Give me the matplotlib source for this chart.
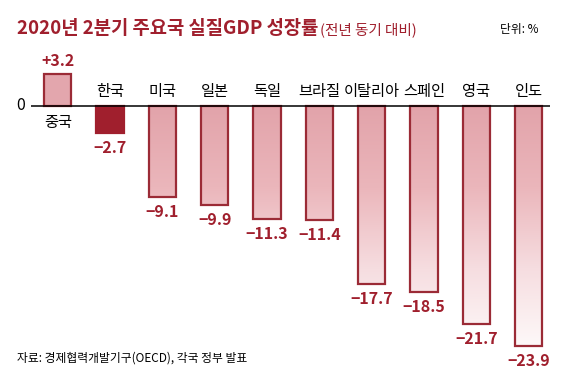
import numpy as np
import matplotlib.pyplot as plt
from matplotlib.colors import LinearSegmentedColormap

plt.rcParams['font.family'] = ['Noto Sans CJK KR', 'DejaVu Sans']

countries = ['중국', '한국', '미국', '일본', '독일', '브라질', '이탈리아', '스페인', '영국', '인도']
growth = [3.2, -2.7, -9.1, -9.9, -11.3, -11.4, -17.7, -18.5, -21.7, -23.9]
value_labels = ['+3.2', '−2.7', '−9.1', '−9.9', '−11.3', '−11.4', '−17.7', '−18.5', '−21.7', '−23.9']

RED = '#a01f2d'
EDGE = '#9b2b36'
W, H = 571, 377

fig = plt.figure(figsize=(W / 100, H / 100), dpi=100)
# axes placed in pixel coordinates: left 31, right 550, top 60, bottom 350
ax = fig.add_axes([31 / W, 1 - 350 / H, (550 - 31) / W, (350 - 60) / H])
ax.axis('off')

cmap = LinearSegmentedColormap.from_list('pinkfade', ['#fefafa', '#f6dde0', '#ebb6bb', '#e2a3aa'])
grad = np.linspace(0, 1, 256).reshape(-1, 1)

x = np.arange(len(countries))
bw = 0.52
bars = ax.bar(x, growth, width=bw, facecolor='none', edgecolor=EDGE, linewidth=1.6, zorder=3)

for i, (b, v) in enumerate(zip(bars, growth)):
    if countries[i] == '한국':
        b.set_facecolor(RED)
        b.set_edgecolor(RED)
        continue
    x0 = b.get_x()
    if v > 0:
        img = ax.imshow(np.full((2, 1), 0.93), extent=[x0, x0 + bw, 0, v], cmap=cmap,
                        vmin=0, vmax=1, aspect='auto', zorder=2)
    else:
        img = ax.imshow(grad, extent=[x0, x0 + bw, -24.31, 0], cmap=cmap, origin='lower',
                        vmin=0, vmax=1, aspect='auto', zorder=2)
    img.set_clip_path(b)

ax.set_xlim(-0.512, 9.41)
ax.set_ylim(-24.31, 4.55)
ax.axhline(0, color='black', linewidth=1.1, zorder=4)

for i, (c, v, lab) in enumerate(zip(countries, growth, value_labels)):
    if v > 0:
        ax.text(i, v + 0.5, lab, ha='center', va='bottom', color=RED, fontsize=11.5, fontweight='bold')
        ax.text(i, -0.8, c, ha='center', va='top', color='black', fontsize=11)
    else:
        ax.text(i, v - 0.7, lab, ha='center', va='top', color=RED, fontsize=11.5, fontweight='bold')
        ax.text(i, 0.6, c, ha='center', va='bottom', color='black', fontsize=11)

ax.text(-0.63, 0, '0', ha='right', va='center', fontsize=11.5, color='black')

title = fig.text(17 / W, 1 - 29 / H, '2020년 2분기 주요국 실질GDP 성장률', ha='left', va='center',
                 color=RED, fontsize=13.5, fontweight='bold')
fig.canvas.draw()
bb = title.get_window_extent()
fig.text((bb.x1 + 2) / W, 1 - 30 / H, '(전년 동기 대비)', ha='left', va='center', color=RED, fontsize=10.5)
fig.text(500 / W, 1 - 30 / H, '단위: %', ha='left', va='center', color='black', fontsize=8.5)
fig.text(17 / W, 1 - 358 / H, '자료: 경제협력개발기구(OECD), 각국 정부 발표', ha='left', va='center',
         color='black', fontsize=8.5)

fig.savefig('out.png', dpi=100)
